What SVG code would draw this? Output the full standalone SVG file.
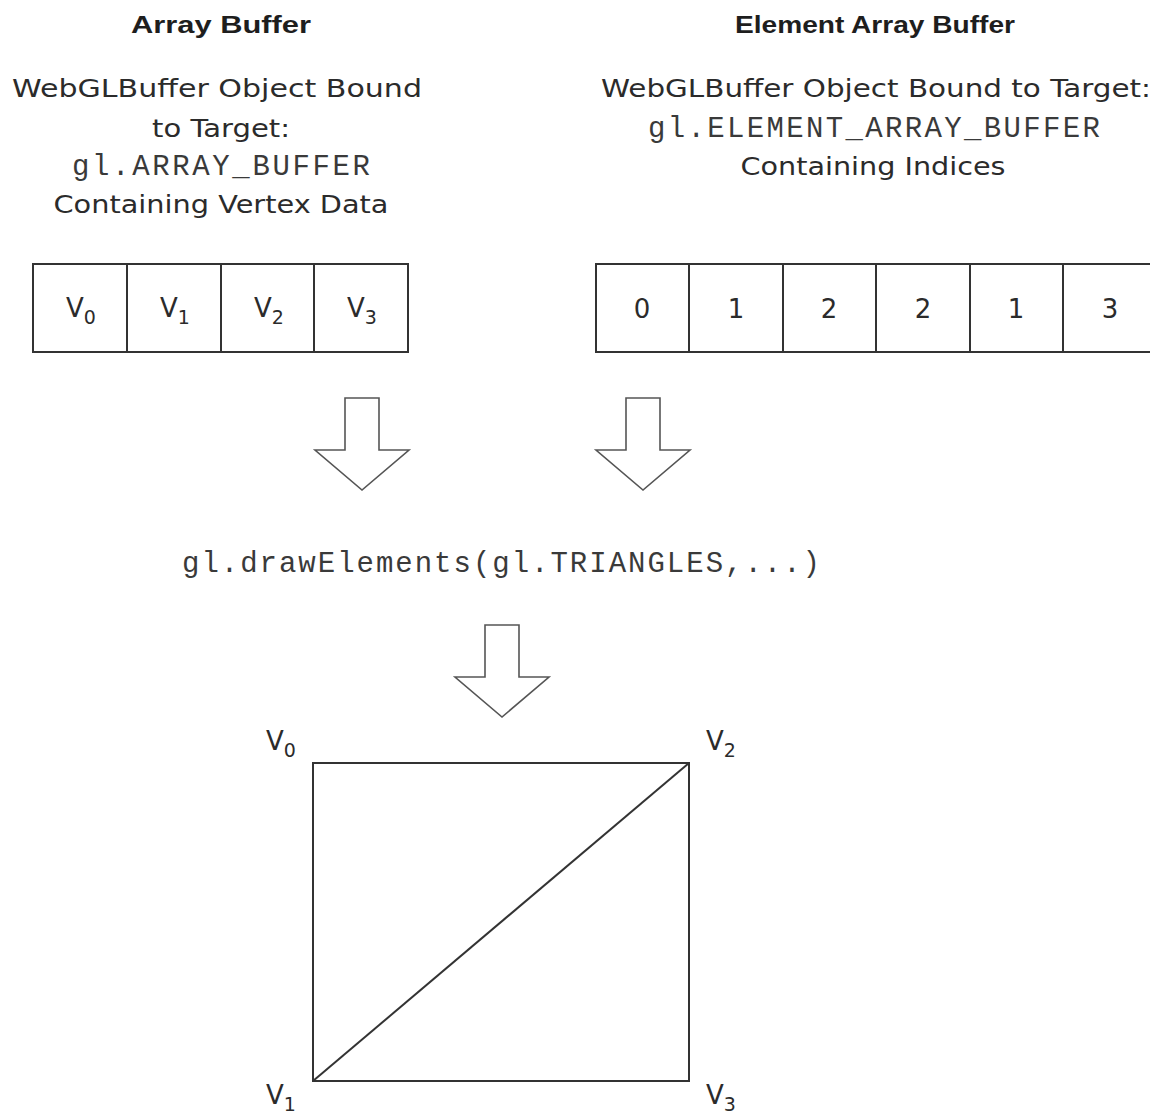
<svg xmlns="http://www.w3.org/2000/svg" width="1150" height="1118" viewBox="0 0 1150 1118">
  <style>
    .sans { font-family: "DejaVu Sans", "Liberation Sans", sans-serif; fill: #2b2b2b; font-size: 24px; }
    .bold { font-family: "Liberation Sans", "DejaVu Sans", sans-serif; font-weight: bold; fill: #1e1e1e; font-size: 24px; }
    .mono { font-family: "Liberation Mono", "DejaVu Sans Mono", monospace; fill: #3a3a3a; font-size: 29px; }
    .cell { fill: #ffffff; stroke: #333333; stroke-width: 2; }
    .lbl { font-family: "DejaVu Sans", "Liberation Sans", sans-serif; fill: #2b2b2b; font-size: 26px; }
    .sub { font-size: 19px; }
    .arrow { fill: #ffffff; stroke: #555555; stroke-width: 1.6; stroke-linejoin: miter; }
    .edge { fill: none; stroke: #333333; stroke-width: 2; }
  </style>
  <defs>
    <path id="bigArrow" d="M -17 0 L 17 0 L 17 52 L 47 52 L 0 92 L -47 52 L -17 52 Z"/>
  </defs>
  <rect width="1150" height="1118" fill="#ffffff"/>

  <g id="array-buffer">
    <text class="bold" x="221" y="33" text-anchor="middle" textLength="180" lengthAdjust="spacingAndGlyphs">Array Buffer</text>
    <text class="sans" x="217" y="97" text-anchor="middle" textLength="410" lengthAdjust="spacingAndGlyphs">WebGLBuffer Object Bound</text>
    <text class="sans" x="221" y="137" text-anchor="middle" textLength="138" lengthAdjust="spacingAndGlyphs">to Target:</text>
    <text class="mono" x="221" y="175" text-anchor="middle" textLength="298" lengthAdjust="spacing">gl.ARRAY_BUFFER</text>
    <text class="sans" x="221" y="213" text-anchor="middle" textLength="335" lengthAdjust="spacingAndGlyphs">Containing Vertex Data</text>
    <rect class="cell" x="33" y="264" width="375" height="88"/>
    <line class="edge" x1="127" y1="264" x2="127" y2="352"/>
    <line class="edge" x1="221" y1="264" x2="221" y2="352"/>
    <line class="edge" x1="314" y1="264" x2="314" y2="352"/>
    <text class="lbl" x="81" y="317" text-anchor="middle">V<tspan class="sub" dy="7">0</tspan></text>
    <text class="lbl" x="175" y="317" text-anchor="middle">V<tspan class="sub" dy="7">1</tspan></text>
    <text class="lbl" x="269" y="317" text-anchor="middle">V<tspan class="sub" dy="7">2</tspan></text>
    <text class="lbl" x="362" y="317" text-anchor="middle">V<tspan class="sub" dy="7">3</tspan></text>
  </g>

  <g id="element-array-buffer">
    <text class="bold" x="875" y="33" text-anchor="middle" textLength="280" lengthAdjust="spacingAndGlyphs">Element Array Buffer</text>
    <text class="sans" x="601" y="97" textLength="550" lengthAdjust="spacingAndGlyphs">WebGLBuffer Object Bound to Target:</text>
    <text class="mono" x="874" y="137" text-anchor="middle" textLength="452" lengthAdjust="spacing">gl.ELEMENT_ARRAY_BUFFER</text>
    <text class="sans" x="873" y="175" text-anchor="middle" textLength="265" lengthAdjust="spacingAndGlyphs">Containing Indices</text>
    <rect class="cell" x="596" y="264" width="562" height="88"/>
    <line class="edge" x1="689" y1="264" x2="689" y2="352"/>
    <line class="edge" x1="783" y1="264" x2="783" y2="352"/>
    <line class="edge" x1="876" y1="264" x2="876" y2="352"/>
    <line class="edge" x1="970" y1="264" x2="970" y2="352"/>
    <line class="edge" x1="1063" y1="264" x2="1063" y2="352"/>
    <text class="lbl" x="642" y="318" text-anchor="middle">0</text>
    <text class="lbl" x="736" y="318" text-anchor="middle">1</text>
    <text class="lbl" x="829" y="318" text-anchor="middle">2</text>
    <text class="lbl" x="923" y="318" text-anchor="middle">2</text>
    <text class="lbl" x="1016" y="318" text-anchor="middle">1</text>
    <text class="lbl" x="1110" y="318" text-anchor="middle">3</text>
  </g>

  <g id="draw-call">
    <text class="mono" x="501" y="572" text-anchor="middle" textLength="638" lengthAdjust="spacing">gl.drawElements(gl.TRIANGLES,...)</text>
  </g>

  <g id="quad">
    <rect class="edge" x="313" y="763" width="376" height="318"/>
    <line class="edge" x1="313" y1="1081" x2="689" y2="763"/>
    <text class="lbl" x="266" y="750">V<tspan class="sub" dy="7">0</tspan></text>
    <text class="lbl" x="706" y="750">V<tspan class="sub" dy="7">2</tspan></text>
    <text class="lbl" x="266" y="1104">V<tspan class="sub" dy="7">1</tspan></text>
    <text class="lbl" x="706" y="1104">V<tspan class="sub" dy="7">3</tspan></text>
  </g>

  <g id="connectors">
    <use href="#bigArrow" class="arrow" transform="translate(362,398)"/>
    <use href="#bigArrow" class="arrow" transform="translate(643,398)"/>
    <use href="#bigArrow" class="arrow" transform="translate(502,625)"/>
  </g>
</svg>
